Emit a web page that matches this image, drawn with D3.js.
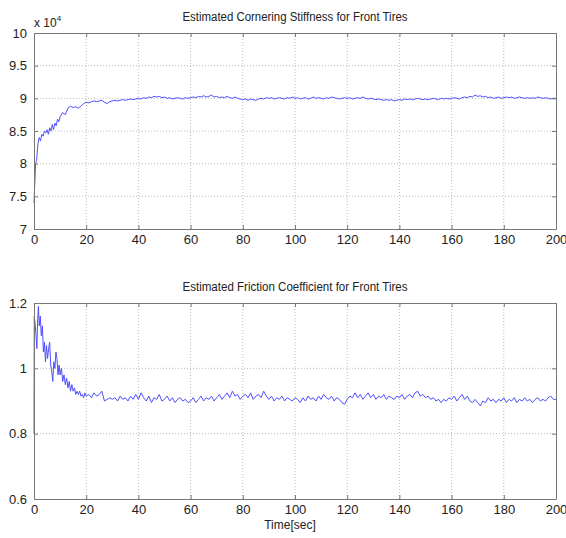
<!DOCTYPE html>
<html>
<head>
<meta charset="utf-8">
<script src="https://cdn.jsdelivr.net/npm/d3@7"></script>
<style>
  body { margin: 0; background: #fff; }
  svg { display: block; }
  text { font-family: "Liberation Sans", Arial, sans-serif; fill: #222; }
</style>
</head>
<body>
<svg id="chart" width="566" height="538"></svg>
<script>
// time axis ticks (seconds)
const xTicks = [0, 20, 40, 60, 80, 100, 120, 140, 160, 180, 200];
const stiffTicks = [7, 7.5, 8, 8.5, 9, 9.5, 10];
const frictionTicks = [0.6, 0.8, 1, 1.2];

// cornering stiffness (x 10^4), transient part [t, value]
const stiffStart = [
  [0,7.4],[0.3,7.7],[0.6,8.0],[1,8.05],[1.5,8.3],[2,8.4],[2.5,8.35],[3,8.45],[3.5,8.42],
  [4,8.5],[4.5,8.47],[5,8.52],[5.5,8.45],[6,8.55],[6.5,8.5],[7,8.6],[7.5,8.52],[8,8.62],
  [8.5,8.58],[9,8.68],[9.5,8.64],[10,8.72],[11,8.78],[12,8.75],[13,8.85],[14,8.88],
  [15,8.86],[16,8.87],[17,8.85],[18,8.88],[19,8.92],[20,8.94],[21,8.93],[22,8.95],
  [23,8.96],[24,8.95],[25,8.96],[26,8.97],[27,8.94],[28,8.92],[29,8.95]
];
// cornering stiffness, one value per second from t = 30 to 200
const stiffSteady = [
  8.96,8.97,8.96,8.97,8.98,8.97,8.98,8.99,8.98,8.99,
  9.00,8.99,9.01,9.00,9.02,9.01,9.03,9.02,9.03,9.01,
  9.02,9.00,9.01,8.99,9.00,9.01,9.00,8.99,9.01,9.00,
  9.01,9.02,9.01,9.03,9.02,9.04,9.02,9.03,9.05,9.02,
  9.03,9.01,9.02,9.01,9.03,9.01,9.00,9.02,9.00,8.99,
  8.98,8.99,8.97,8.99,8.98,8.97,8.99,9.00,8.99,9.01,
  9.00,9.01,8.99,9.00,9.01,9.00,8.99,9.01,9.00,9.02,
  9.00,9.01,8.99,9.00,9.01,8.99,9.00,9.02,9.00,9.01,
  9.00,8.99,9.01,9.00,9.02,9.01,9.00,8.99,9.00,9.01,
  9.00,9.01,8.99,9.00,9.01,9.00,9.02,9.00,8.99,9.00,
  8.99,8.98,8.99,8.98,8.97,8.98,8.97,8.98,8.96,8.97,
  8.98,8.97,8.99,8.98,8.99,8.98,8.99,9.00,8.99,8.98,
  8.99,8.98,8.99,9.00,8.99,8.98,9.00,8.99,9.00,8.99,
  9.00,9.01,9.00,8.99,9.01,9.02,9.01,9.03,9.02,9.05,
  9.03,9.04,9.02,9.03,9.01,9.02,9.00,9.01,9.02,9.00,
  9.01,9.02,9.01,9.02,9.00,9.01,9.02,9.01,9.00,9.01,
  9.00,9.01,9.00,9.02,9.01,9.00,9.01,9.00,8.99,9.00,
  9.00
];

// friction coefficient, transient part [t, value]
const frictionStart = [
  [0,0.8],[0.1,1.16],[0.4,1.14],[0.8,1.1],[1.1,1.06],[1.4,1.15],[1.7,1.19],[2.0,1.13],
  [2.4,1.16],[2.8,1.1],[3.2,1.13],[3.6,1.05],[4.0,1.08],[4.4,1.02],[4.8,1.07],[5.2,1.03],
  [5.6,1.06],[6.0,1.08],[6.4,1.01],[6.8,0.99],[7.2,0.96],[7.6,1.02],[8.0,1.0],[8.4,1.05],
  [8.8,1.03],[9.2,0.98],[9.6,1.01],[10,0.98],[10.5,1.0],[11,0.96],[11.5,0.98],[12,0.95],
  [12.5,0.97],[13,0.94],[13.5,0.96],[14,0.93],[14.5,0.95],[15,0.93],[15.5,0.94],[16,0.92],
  [16.5,0.93],[17,0.92],[17.5,0.93],[18,0.915],[18.5,0.92],[19,0.91],[19.5,0.925],[20,0.915]
];
// friction coefficient, one value per second from t = 21 to 200
const frictionSteady = [
  0.92,0.91,0.925,0.915,0.92,0.93,0.90,0.905,0.91,
  0.905,0.91,0.90,0.915,0.905,0.91,0.90,0.915,0.905,0.92,
  0.905,0.925,0.91,0.90,0.915,0.895,0.91,0.905,0.92,0.90,
  0.905,0.915,0.90,0.91,0.895,0.905,0.91,0.90,0.905,0.895,
  0.90,0.91,0.895,0.905,0.915,0.90,0.91,0.905,0.915,0.90,
  0.91,0.92,0.905,0.915,0.925,0.91,0.93,0.915,0.92,0.905,
  0.915,0.92,0.91,0.925,0.905,0.915,0.92,0.91,0.93,0.915,
  0.905,0.915,0.90,0.91,0.905,0.915,0.90,0.91,0.905,0.90,
  0.91,0.905,0.895,0.91,0.90,0.915,0.905,0.91,0.90,0.915,
  0.905,0.92,0.91,0.905,0.915,0.90,0.91,0.905,0.895,0.89,
  0.905,0.915,0.91,0.925,0.91,0.92,0.905,0.915,0.925,0.91,
  0.92,0.905,0.915,0.91,0.92,0.905,0.915,0.91,0.905,0.915,
  0.91,0.92,0.905,0.915,0.92,0.91,0.925,0.93,0.915,0.92,
  0.91,0.915,0.905,0.91,0.90,0.905,0.895,0.905,0.90,0.91,
  0.905,0.915,0.90,0.91,0.92,0.905,0.915,0.90,0.895,0.905,
  0.895,0.885,0.90,0.895,0.91,0.90,0.905,0.895,0.905,0.90,
  0.91,0.895,0.905,0.90,0.91,0.895,0.905,0.90,0.91,0.90,
  0.905,0.895,0.905,0.91,0.90,0.905,0.90,0.91,0.915,0.905,
  0.905
];

const stiffData = stiffStart.concat(stiffSteady.map((v, i) => [30 + i, v]));
const frictionData = frictionStart.concat(frictionSteady.map((v, i) => [21 + i, v]));

const svg = d3.select('#chart');
const left = 34, right = 556;

function drawPanel(opts){
  const x = d3.scaleLinear().domain([0, 200]).range([left, right]);
  const y = d3.scaleLinear().domain(opts.yDomain).range([opts.bottom, opts.top]);
  const g = svg.append('g');

  // dotted grid
  g.append('g').selectAll('line.vg')
    .data(xTicks.slice(1, -1))
    .join('line')
      .attr('x1', d => x(d)).attr('x2', d => x(d))
      .attr('y1', opts.top).attr('y2', opts.bottom)
      .attr('stroke', '#bbb').attr('stroke-dasharray', '1,2');
  g.append('g').selectAll('line.hg')
    .data(opts.yTicks.slice(1, -1))
    .join('line')
      .attr('y1', d => y(d)).attr('y2', d => y(d))
      .attr('x1', left).attr('x2', right)
      .attr('stroke', '#bbb').attr('stroke-dasharray', '1,2');

  // data line
  g.append('path')
    .datum(opts.data)
    .attr('fill', 'none')
    .attr('stroke', '#4f4fff')
    .attr('stroke-width', 1)
    .attr('d', d3.line().x(d => x(d[0])).y(d => y(d[1])));

  // axes, ticks pointing inward like matlab
  const xb = d3.axisBottom(x).tickValues(xTicks).tickSizeInner(-4).tickSizeOuter(0).tickPadding(6);
  const xt = d3.axisTop(x).tickValues(xTicks).tickSizeInner(-4).tickSizeOuter(0).tickFormat('');
  const yl = d3.axisLeft(y).tickValues(opts.yTicks).tickSizeInner(-4).tickSizeOuter(0).tickPadding(7).tickFormat(d3.format('~g'));
  const yr = d3.axisRight(y).tickValues(opts.yTicks).tickSizeInner(-4).tickSizeOuter(0).tickFormat('');

  [[xb, `translate(0,${opts.bottom})`], [xt, `translate(0,${opts.top})`],
   [yl, `translate(${left},0)`], [yr, `translate(${right},0)`]].forEach(([ax, tr]) => {
    const a = g.append('g').attr('transform', tr).call(ax);
    a.selectAll('path, line').attr('stroke', '#777');
    a.selectAll('text').attr('font-size', 13).attr('fill', '#222')
      .style('font-family', '"Liberation Sans", Arial, sans-serif');
  });

  g.append('text')
    .attr('x', 295).attr('y', opts.top - 12)
    .attr('text-anchor', 'middle')
    .attr('font-size', 12)
    .attr('textLength', 225).attr('lengthAdjust', 'spacingAndGlyphs')
    .text(opts.title);
  return g;
}

drawPanel({
  data: stiffData, yDomain: [7, 10], yTicks: stiffTicks,
  top: 33, bottom: 229, title: 'Estimated Cornering Stiffness for Front Tires'
});
drawPanel({
  data: frictionData, yDomain: [0.6, 1.2], yTicks: frictionTicks,
  top: 303, bottom: 499, title: 'Estimated Friction Coefficient for Front Tires'
});

// exponent label of top y axis
const ex = svg.append('text').attr('x', 34).attr('y', 27).attr('font-size', 12);
ex.append('tspan').text('x 10');
ex.append('tspan').attr('dy', -6).attr('font-size', 8).text('4');

svg.append('text')
  .attr('x', 290).attr('y', 529)
  .attr('text-anchor', 'middle')
  .attr('font-size', 12)
  .text('Time[sec]');
</script>
</body>
</html>
